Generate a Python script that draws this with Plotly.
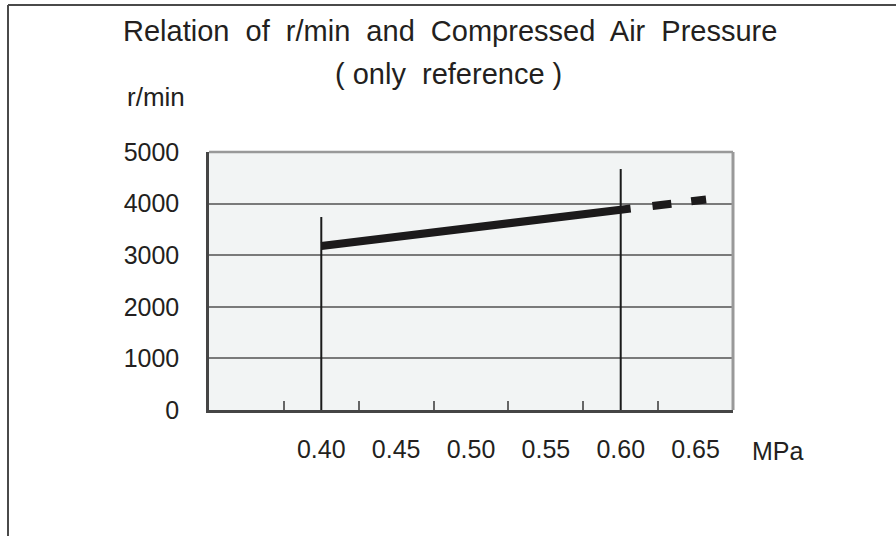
import plotly.graph_objects as go

# ---- data ----
pressure = [0.40, 0.60]            # MPa, solid part
speed = [3180, 3880]               # r/min
ext_pressure = [0.60, 0.66]        # MPa, dashed extension
ext_speed = [3880, 4090]
guide_x = [0.40, 0.60]             # vertical guide lines
guide_top = [3740, 4670]
x_tick_labels = ["0.40", "0.45", "0.50", "0.55", "0.60", "0.65"]
x_tick_vals = [0.40, 0.45, 0.50, 0.55, 0.60, 0.65]
x_minor_marks = [0.375, 0.425, 0.475, 0.525, 0.575, 0.625]
y_ticks = [0, 1000, 2000, 3000, 4000, 5000]

W, H = 896, 536
ML, MR, MT, MB = 209, 163, 152, 126
PW, PH = W - ML - MR, H - MT - MB

def px(x):
    return (x - ML) / PW

def py(y):
    return (H - MB - y) / PH

FONT = "Liberation Sans, Arial, sans-serif"
TXT = "#231f20"
FS = 25

fig = go.Figure()

for gx, gt in zip(guide_x, guide_top):
    fig.add_trace(go.Scatter(x=[gx, gx], y=[0, gt], mode="lines",
                             line=dict(color="#1a1a1a", width=2),
                             hoverinfo="skip", showlegend=False))

fig.add_trace(go.Scatter(x=pressure, y=speed, mode="lines",
                         line=dict(color="#1c1a1b", width=8),
                         showlegend=False))
fig.add_trace(go.Scatter(x=ext_pressure, y=ext_speed, mode="lines",
                         line=dict(color="#1c1a1b", width=8,
                                   dash="10px,22px,19px,20px,15px,200px"),
                         showlegend=False))

# invisible trace on xaxis2 for labels
fig.add_trace(go.Scatter(x=x_tick_vals, y=[None] * len(x_tick_vals),
                         xaxis="x2", mode="markers", showlegend=False,
                         hoverinfo="skip"))

fig.update_layout(
    width=W, height=H,
    margin=dict(l=ML, r=MR, t=MT, b=MB),
    paper_bgcolor="white",
    plot_bgcolor="#f2f4f4",
    font=dict(family=FONT, size=FS, color=TXT),
    xaxis=dict(range=[0.325, 0.675], showgrid=False, zeroline=False,
               showline=True, linecolor="#454545", linewidth=2.5,
               ticks="inside", tickvals=x_minor_marks, ticklen=9,
               tickwidth=1.5, tickcolor="#666", showticklabels=False),
    xaxis2=dict(range=[0.325, 0.675], overlaying="x", side="bottom",
                showgrid=False, zeroline=False, showline=False,
                tickvals=x_tick_vals, ticktext=x_tick_labels, ticks="",
                ticklabelstandoff=22,
                tickfont=dict(family=FONT, size=FS, color=TXT)),
    yaxis=dict(range=[0, 5000], tickvals=y_ticks, showgrid=True,
               gridcolor="#7a7a7a", gridwidth=1.5, zeroline=False,
               showline=True, linecolor="#454545", linewidth=2.5,
               ticks="", ticklabelstandoff=22,
               tickfont=dict(family=FONT, size=FS, color=TXT)),
    showlegend=False,
)

shapes = [
    # plot top & right borders (light gray)
    dict(type="line", xref="paper", yref="paper", x0=0, x1=1, y0=1, y1=1,
         line=dict(color="#999999", width=2.5)),
    dict(type="line", xref="paper", yref="paper", x0=1, x1=1, y0=0, y1=1,
         line=dict(color="#999999", width=3)),
    # outer frame
    dict(type="line", xref="paper", yref="paper", x0=px(8), x1=px(896),
         y0=py(5), y1=py(5), line=dict(color="#4a4a4a", width=2)),
    dict(type="line", xref="paper", yref="paper", x0=px(8), x1=px(8),
         y0=py(5), y1=py(536), line=dict(color="#4a4a4a", width=2)),
]
fig.update_layout(shapes=shapes)

ann = [
    dict(text="Relation  of  r/min  and  Compressed  Air  Pressure",
         x=px(450), y=py(31), size=29),
    dict(text="( only  reference )", x=px(448), y=py(74), size=29),
    dict(text="r/min", x=px(156), y=py(97), size=26),
    dict(text="MPa", x=px(778), y=py(451), size=25),
]
for a in ann:
    size = a.pop("size")
    fig.add_annotation(xref="paper", yref="paper", showarrow=False,
                       xanchor="center", yanchor="middle",
                       font=dict(family=FONT, size=size, color=TXT), **a)

fig.write_html("out.html",
               config={"displayModeBar": False},
               post_script="document.body.style.margin='0';")
